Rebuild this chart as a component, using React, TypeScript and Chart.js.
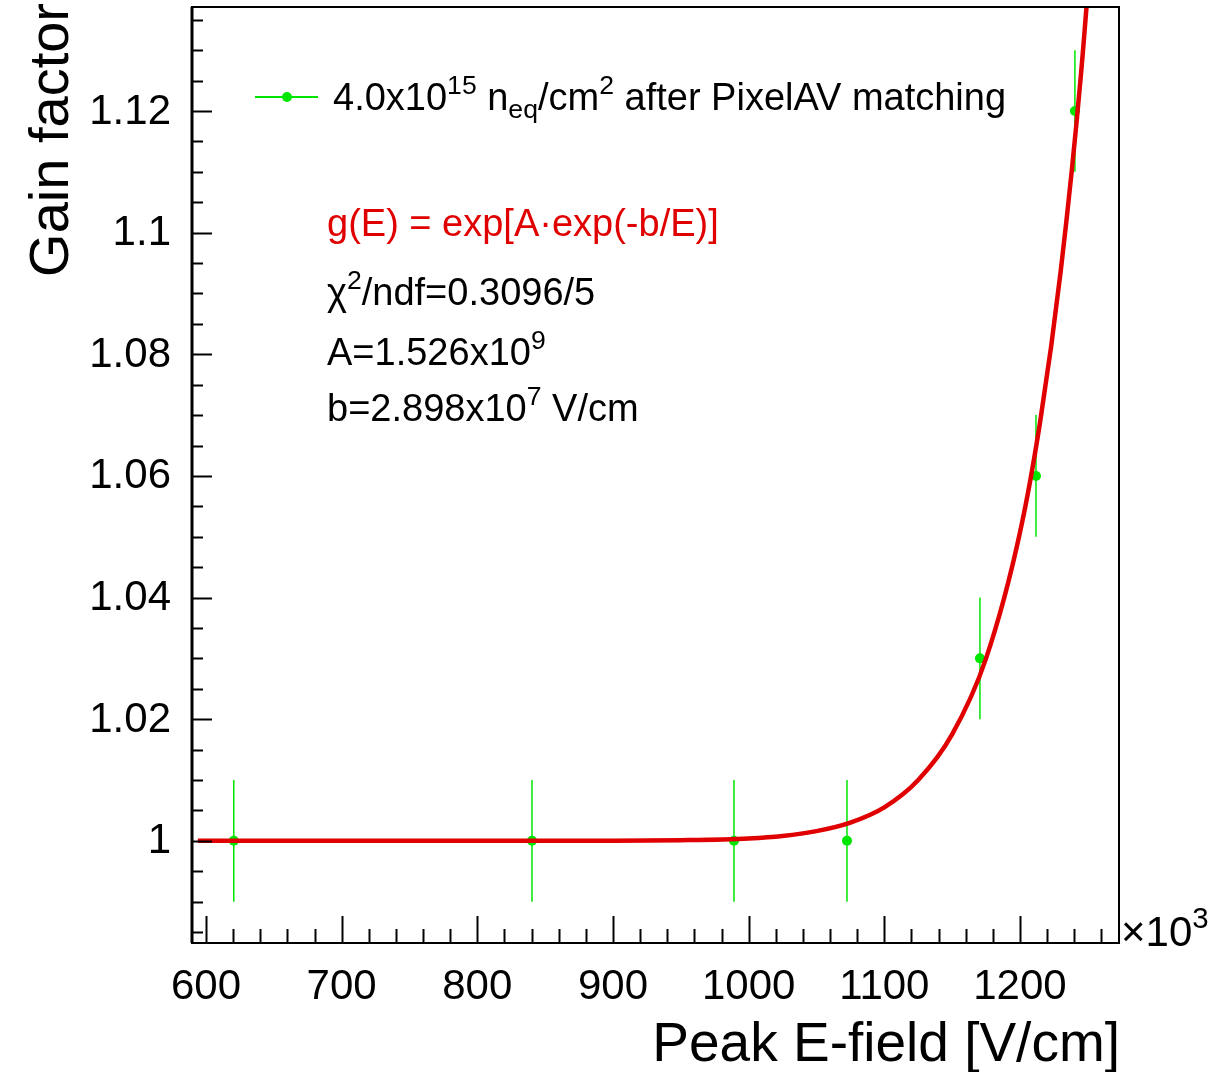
import React, { useEffect, useRef } from "react";
import { Chart, registerables } from "chart.js";

Chart.register(...registerables);

// ---- data (E-field in units of 10^3 V/cm) ----
const peakField = [620.5, 840.3, 989.2, 1072.5, 1170.5, 1211.8, 1240.5];
const gainFactor = [1.0, 1.0, 1.0, 1.0, 1.03, 1.06, 1.12];
const gainError = [0.01, 0.01, 0.01, 0.01, 0.01, 0.01, 0.01];

// fitted curve
const fitField = [594, 700, 800, 900, 950, 1000, 1025, 1050, 1075, 1100, 1125, 1150, 1175, 1200, 1215, 1230, 1245, 1260];
const fitGain = [1.0, 1.0, 1.0, 1.0, 1.0001, 1.0004, 1.0008, 1.0016, 1.003, 1.0055, 1.01, 1.0175, 1.03, 1.0507, 1.0691, 1.0936, 1.1261, 1.1695];

const xTickValues = [600, 700, 800, 900, 1000, 1100, 1200];
const xTickLabels = ["600", "700", "800", "900", "1000", "1100", "1200"];
const yTickValues = [1.0, 1.02, 1.04, 1.06, 1.08, 1.1, 1.12];
const yTickLabels = ["1", "1.02", "1.04", "1.06", "1.08", "1.1", "1.12"];

const X_MIN = 589.7;
const X_MAX = 1273;
const Y_MIN = 0.9832;
const Y_MAX = 1.1371;

const xTitle = "Peak E-field [V/cm]";
const yTitle = "Gain factor";
const FONT = '"Liberation Sans", Arial, Helvetica, sans-serif';
const GREEN = "#00e600";
const RED = "#e00000";

type Part = { t: string; k?: "sup" | "sub" };

function drawRich(ctx: CanvasRenderingContext2D, parts: Part[], x: number, y: number, size: number, color: string) {
  let cx = x;
  ctx.fillStyle = color;
  ctx.textAlign = "left";
  ctx.textBaseline = "alphabetic";
  for (const p of parts) {
    const s = p.k ? size * 0.7 : size;
    const dy = p.k === "sup" ? -size * 0.42 : p.k === "sub" ? size * 0.22 : 0;
    ctx.font = `${s}px ${FONT}`;
    ctx.fillText(p.t, cx, y + dy);
    cx += ctx.measureText(p.t).width;
  }
}

const decorPlugin = {
  id: "rootDecor",
  beforeDatasetsDraw(chart: any) {
    const ctx = chart.ctx as CanvasRenderingContext2D;
    const xs = chart.scales.x;
    const ys = chart.scales.y;
    const a = chart.chartArea;
    ctx.save();
    ctx.beginPath();
    ctx.rect(a.left, a.top, a.right - a.left, a.bottom - a.top);
    ctx.clip();
    ctx.strokeStyle = GREEN;
    ctx.lineWidth = 1.5;
    for (let i = 0; i < peakField.length; i++) {
      const px = xs.getPixelForValue(peakField[i]);
      const y1 = ys.getPixelForValue(gainFactor[i] - gainError[i]);
      const y2 = ys.getPixelForValue(gainFactor[i] + gainError[i]);
      ctx.beginPath();
      ctx.moveTo(px, y1);
      ctx.lineTo(px, y2);
      ctx.stroke();
    }
    ctx.restore();
  },
  afterDraw(chart: any) {
    const ctx = chart.ctx as CanvasRenderingContext2D;
    const xs = chart.scales.x;
    const ys = chart.scales.y;
    const a = chart.chartArea;
    ctx.save();
    // frame
    ctx.strokeStyle = "#000";
    ctx.lineWidth = 2;
    ctx.strokeRect(a.left, a.top, a.right - a.left, a.bottom - a.top);
    ctx.lineWidth = 3;
    ctx.beginPath();
    ctx.moveTo(a.left, a.top);
    ctx.lineTo(a.left, a.bottom);
    ctx.stroke();

    // x ticks
    ctx.lineWidth = 2;
    for (let v = 600; v <= X_MAX; v += 20) {
      const px = Math.round(xs.getPixelForValue(v)) + 0.5;
      const major = v % 100 === 0;
      ctx.beginPath();
      ctx.moveTo(px, a.bottom);
      ctx.lineTo(px, a.bottom - (major ? 27 : 14));
      ctx.stroke();
    }
    // y ticks
    for (let k = 0; ; k++) {
      const v = 0.985 + k * 0.005;
      if (v > Y_MAX) break;
      const py = Math.round(ys.getPixelForValue(v)) + 0.5;
      const major = Math.abs(Math.round(v * 50) - v * 50) < 1e-6;
      ctx.beginPath();
      ctx.moveTo(a.left, py);
      ctx.lineTo(a.left + (major ? 20 : 11), py);
      ctx.stroke();
    }

    // tick labels
    ctx.fillStyle = "#000";
    ctx.font = `42px ${FONT}`;
    ctx.textAlign = "center";
    ctx.textBaseline = "alphabetic";
    xTickValues.forEach((v, i) => {
      ctx.fillText(xTickLabels[i], xs.getPixelForValue(v), 999);
    });
    ctx.textAlign = "right";
    ctx.textBaseline = "middle";
    yTickValues.forEach((v, i) => {
      ctx.fillText(yTickLabels[i], 171, ys.getPixelForValue(v) + 1);
    });

    // x10^3
    drawRich(ctx, [{ t: "\u00d710" }, { t: "3", k: "sup" }], 1121, 946, 42, "#000");

    // axis titles
    ctx.fillStyle = "#000";
    ctx.font = `55px ${FONT}`;
    ctx.textAlign = "right";
    ctx.textBaseline = "alphabetic";
    ctx.fillText(xTitle, 1120, 1061);
    ctx.save();
    ctx.translate(68, 3);
    ctx.rotate(-Math.PI / 2);
    ctx.font = `56px ${FONT}`;
    ctx.textAlign = "right";
    ctx.fillText(yTitle, 0, 0);
    ctx.restore();

    // legend
    ctx.strokeStyle = GREEN;
    ctx.lineWidth = 2;
    ctx.beginPath();
    ctx.moveTo(255, 97);
    ctx.lineTo(318, 97);
    ctx.stroke();
    ctx.fillStyle = GREEN;
    ctx.beginPath();
    ctx.arc(287, 97, 5, 0, Math.PI * 2);
    ctx.fill();
    drawRich(
      ctx,
      [
        { t: "4.0x10" },
        { t: "15", k: "sup" },
        { t: " n" },
        { t: "eq", k: "sub" },
        { t: "/cm" },
        { t: "2", k: "sup" },
        { t: " after PixelAV matching" },
      ],
      333,
      110,
      38,
      "#000"
    );

    // fit text
    drawRich(ctx, [{ t: "g(E) = exp[A\u00b7exp(-b/E)]" }], 327, 236, 38, RED);
    drawRich(ctx, [{ t: "\u03c7" }, { t: "2", k: "sup" }, { t: "/ndf=0.3096/5" }], 327, 305, 38, "#000");
    drawRich(ctx, [{ t: "A=1.526x10" }, { t: "9", k: "sup" }], 327, 365, 38, "#000");
    drawRich(ctx, [{ t: "b=2.898x10" }, { t: "7", k: "sup" }, { t: " V/cm" }], 327, 421, 38, "#000");
    ctx.restore();
  },
};

export default function App() {
  const canvasRef = useRef<HTMLCanvasElement | null>(null);
  useEffect(() => {
    const canvas = canvasRef.current;
    if (!canvas) return;
    const chart = new Chart(canvas, {
      type: "scatter",
      data: {
        datasets: [
          {
            label: "fit",
            data: fitField.map((x, i) => ({ x, y: fitGain[i] })),
            showLine: true,
            borderColor: RED,
            borderWidth: 4.5,
            pointRadius: 0,
            cubicInterpolationMode: "monotone",
            order: 0,
          },
          {
            label: "data",
            data: peakField.map((x, i) => ({ x, y: gainFactor[i] })),
            showLine: false,
            backgroundColor: GREEN,
            borderColor: GREEN,
            borderWidth: 0,
            pointRadius: 5,
            order: 1,
          },
        ],
      } as any,
      options: {
        animation: false,
        responsive: false,
        devicePixelRatio: 1,
        layout: { padding: { left: 192, top: 7, right: 92, bottom: 129 } },
        plugins: { legend: { display: false }, tooltip: { enabled: false } },
        scales: {
          x: { type: "linear", min: X_MIN, max: X_MAX, display: false },
          y: { type: "linear", min: Y_MIN, max: Y_MAX, display: false },
        },
      } as any,
      plugins: [decorPlugin],
    });
    return () => chart.destroy();
  }, []);
  return (
    <div style={{ position: "absolute", left: 0, top: 0, width: 1211, height: 1072, background: "#fff" }}>
      <canvas ref={canvasRef} width={1211} height={1072} style={{ display: "block" }} />
    </div>
  );
}
